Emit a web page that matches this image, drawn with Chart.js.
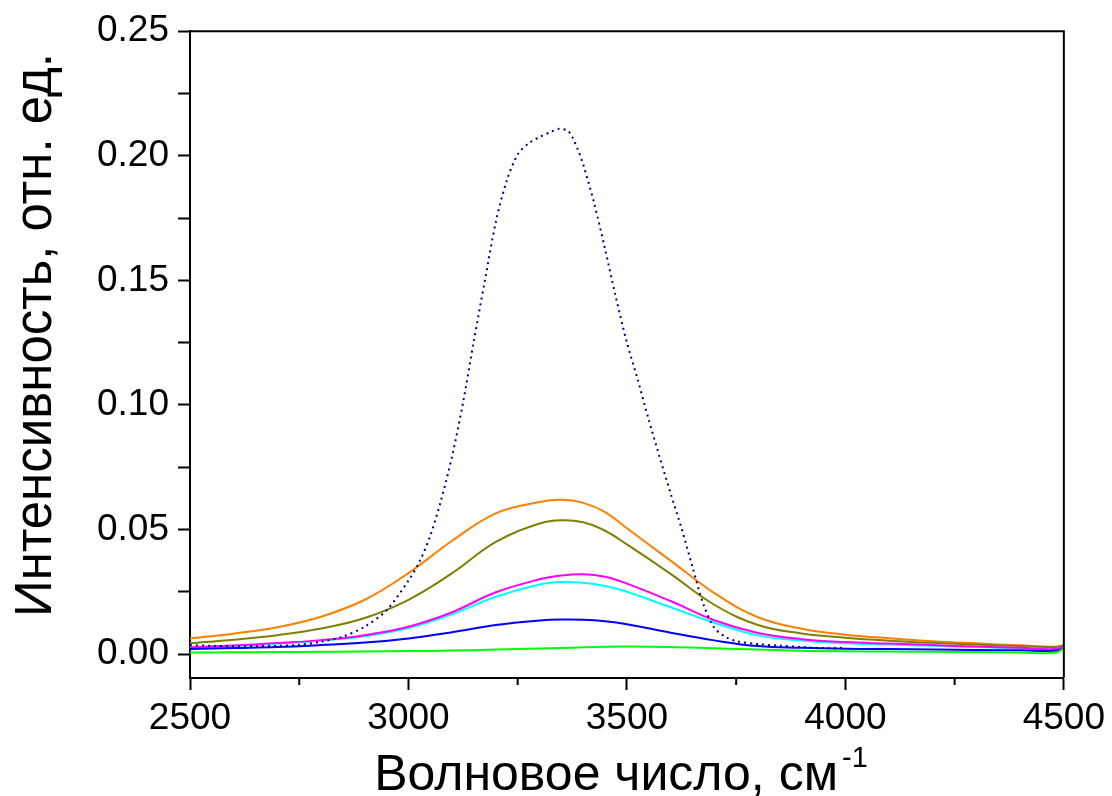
<!DOCTYPE html>
<html>
<head>
<meta charset="utf-8">
<script src="https://cdn.jsdelivr.net/npm/chart.js@4"></script>
<style>
  html, body { margin: 0; padding: 0; background: #fff; }
</style>
</head>
<body>
<canvas id="chart" width="1112" height="796"></canvas>
<script>
// wavenumbers (cm-1) shared by the solid curves
const wavenumber = [2500, 2600, 2700, 2800, 2900, 3000, 3100, 3200, 3300, 3350, 3400, 3450,
                    3500, 3600, 3700, 3800, 3900, 4000, 4100, 4200, 4300, 4400, 4480, 4500];

const orangeCurve  = [0.0063, 0.0082, 0.0108, 0.0150, 0.0218, 0.0325, 0.0455, 0.0565, 0.0610, 0.0619, 0.0607, 0.0570,
                      0.0505, 0.0375, 0.0245, 0.0148, 0.0102, 0.0078, 0.0064, 0.0052, 0.0043, 0.0035, 0.0029, 0.0036];
const oliveCurve   = [0.0044, 0.0058, 0.0076, 0.0103, 0.0145, 0.0218, 0.0325, 0.0450, 0.0524, 0.0537, 0.0529, 0.0495,
                      0.0440, 0.0322, 0.0198, 0.0117, 0.0083, 0.0066, 0.0054, 0.0045, 0.0038, 0.0032, 0.0028, 0.0034];
const magentaCurve = [0.0027, 0.0034, 0.0044, 0.0056, 0.0076, 0.0110, 0.0168, 0.0248, 0.0300, 0.0315, 0.0320, 0.0310,
                      0.0283, 0.0213, 0.0136, 0.0085, 0.0060, 0.0048, 0.0042, 0.0036, 0.0030, 0.0025, 0.0020, 0.0030];
const cyanCurve    = [0.0025, 0.0032, 0.0042, 0.0054, 0.0072, 0.0105, 0.0160, 0.0230, 0.0279, 0.0289, 0.0286, 0.0273,
                      0.0250, 0.0188, 0.0126, 0.0075, 0.0054, 0.0043, 0.0038, 0.0033, 0.0028, 0.0023, 0.0018, 0.0028];
const blueCurve    = [0.0020, 0.0024, 0.0028, 0.0036, 0.0046, 0.0063, 0.0088, 0.0117, 0.0135, 0.0139, 0.0138, 0.0132,
                      0.0120, 0.0086, 0.0055, 0.0032, 0.0025, 0.0021, 0.0020, 0.0018, 0.0016, 0.0015, 0.0013, 0.0022];
const greenCurve   = [0.0006, 0.0007, 0.0008, 0.0009, 0.0010, 0.0012, 0.0014, 0.0018, 0.0022, 0.0024, 0.0027, 0.0029,
                      0.0030, 0.0028, 0.0023, 0.0018, 0.0013, 0.0011, 0.0010, 0.0009, 0.0008, 0.0006, 0.0005, 0.0022];

// dotted navy curve has its own sampling
const dottedX = [2500, 2550, 2600, 2650, 2700, 2750, 2800, 2850, 2900, 2950, 3000, 3025, 3050, 3075, 3100,
                 3125, 3150, 3175, 3200, 3225, 3250, 3275, 3300, 3325, 3345, 3365, 3375, 3390, 3400, 3425,
                 3450, 3475, 3500, 3525, 3550, 3575, 3600, 3625, 3650, 3675, 3700, 3725, 3750, 3800, 3850,
                 3900, 3950, 4000];
const dottedY = [0.0036, 0.0033, 0.0032, 0.0032, 0.0033, 0.0037, 0.0050, 0.0070, 0.0110, 0.0176, 0.0295, 0.0370,
                 0.0475, 0.0620, 0.0795, 0.1010, 0.1260, 0.1500, 0.1735, 0.1900, 0.2005, 0.2050, 0.2075, 0.2095,
                 0.2108, 0.2100, 0.2075, 0.2015, 0.1965, 0.1810, 0.1625, 0.1430, 0.1250, 0.1100, 0.0940, 0.0790,
                 0.0645, 0.0505, 0.0350, 0.0200, 0.0105, 0.0070, 0.0052, 0.0040, 0.0034, 0.0028, 0.0024, 0.0024];

const xTickValues = [2500, 2750, 3000, 3250, 3500, 3750, 4000, 4250, 4500];
const yTickValues = [0, 0.025, 0.05, 0.075, 0.1, 0.125, 0.15, 0.175, 0.2, 0.225, 0.25];

const xTitle = "Волновое число, см";
const xTitleSup = "-1";
const yTitle = "Интенсивность, отн. ед.";

const FONT = '"Liberation Sans", Arial, sans-serif';

function pts(xs, ys) {
    return xs.map((x, i) => ({ x: x, y: ys[i] }));
}

function solid(data, color) {
    return {
        data: pts(wavenumber, data),
        borderColor: color,
        borderWidth: 2,
        pointRadius: 0,
        tension: 0.4,
        fill: false
    };
}

const isMajorX = v => Math.abs(v % 500) < 1e-6;
const isMajorY = v => Math.abs(v * 20 - Math.round(v * 20)) < 1e-6;

// box on top/right, minor x ticks and the axis titles
const framePlugin = {
    id: 'frame',
    afterDraw(chart) {
        const { ctx, chartArea: a, scales } = chart;
        ctx.save();
        ctx.strokeStyle = '#000';
        ctx.lineWidth = 2;
        ctx.beginPath();
        ctx.moveTo(a.left, a.top);
        ctx.lineTo(a.right, a.top);
        ctx.lineTo(a.right, a.bottom);
        ctx.stroke();

        // short minor ticks on x
        xTickValues.filter(v => !isMajorX(v)).forEach(v => {
            const px = scales.x.getPixelForValue(v);
            ctx.beginPath();
            ctx.moveTo(px, a.bottom);
            ctx.lineTo(px, a.bottom + 7);
            ctx.stroke();
        });

        // x title with superscript
        ctx.fillStyle = '#000';
        ctx.textBaseline = 'alphabetic';
        ctx.textAlign = 'left';
        ctx.font = '50px ' + FONT;
        const w1 = ctx.measureText(xTitle).width;
        ctx.font = '29px ' + FONT;
        const w2 = ctx.measureText(xTitleSup).width;
        const x0 = 621 - (w1 + w2 + 4) / 2;
        ctx.font = '50px ' + FONT;
        ctx.fillText(xTitle, x0, 790);
        ctx.font = '29px ' + FONT;
        ctx.fillText(xTitleSup, x0 + w1 + 4, 767);

        // y title, rotated
        ctx.translate(51, 335);
        ctx.rotate(-Math.PI / 2);
        ctx.textAlign = 'center';
        ctx.font = '51px ' + FONT;
        ctx.fillText(yTitle, 0, 0);
        ctx.restore();
    }
};

new Chart(document.getElementById('chart'), {
    type: 'line',
    data: {
        datasets: [
            {
                data: pts(dottedX, dottedY),
                borderColor: '#000080',
                borderWidth: 2,
                borderDash: [2, 4],
                pointRadius: 0,
                tension: 0.3,
                fill: false
            },
            solid(greenCurve, '#00FF00'),
            solid(blueCurve, '#0000FF'),
            solid(magentaCurve, '#FF00FF'),
            solid(cyanCurve, '#00FFFF'),
            solid(oliveCurve, '#808000'),
            solid(orangeCurve, '#FF8000')
        ]
    },
    options: {
        responsive: false,
        animation: false,
        devicePixelRatio: 1,
        layout: { padding: { left: 0, right: 47, top: 31, bottom: 0 } },
        plugins: {
            legend: { display: false },
            tooltip: { enabled: false }
        },
        scales: {
            x: {
                type: 'linear',
                min: 2500,
                max: 4500,
                afterBuildTicks: s => { s.ticks = xTickValues.map(v => ({ value: v })); },
                afterFit: s => { s.height = 118; },
                ticks: {
                    autoSkip: false,
                    maxRotation: 0,
                    padding: 7,
                    color: '#000',
                    font: { family: FONT, size: 37 },
                    callback: v => isMajorX(v) ? String(v) : ''
                },
                grid: {
                    drawOnChartArea: false,
                    drawTicks: true,
                    tickLength: 12,
                    tickWidth: 2,
                    tickColor: c => (c.tick && isMajorX(c.tick.value)) ? '#000' : 'rgba(0,0,0,0)'
                },
                border: { display: true, color: '#000', width: 2 }
            },
            y: {
                type: 'linear',
                min: -0.0096,
                max: 0.25,
                afterBuildTicks: s => { s.ticks = yTickValues.map(v => ({ value: v })); },
                afterFit: s => { s.width = 190; },
                ticks: {
                    autoSkip: false,
                    padding: 9,
                    color: '#000',
                    font: { family: FONT, size: 37 },
                    callback: v => isMajorY(v) ? v.toFixed(2) : ''
                },
                grid: {
                    drawOnChartArea: false,
                    drawTicks: true,
                    tickLength: 12,
                    tickWidth: 2,
                    tickColor: '#000'
                },
                border: { display: true, color: '#000', width: 2 }
            }
        }
    },
    plugins: [framePlugin]
});
</script>
</body>
</html>
